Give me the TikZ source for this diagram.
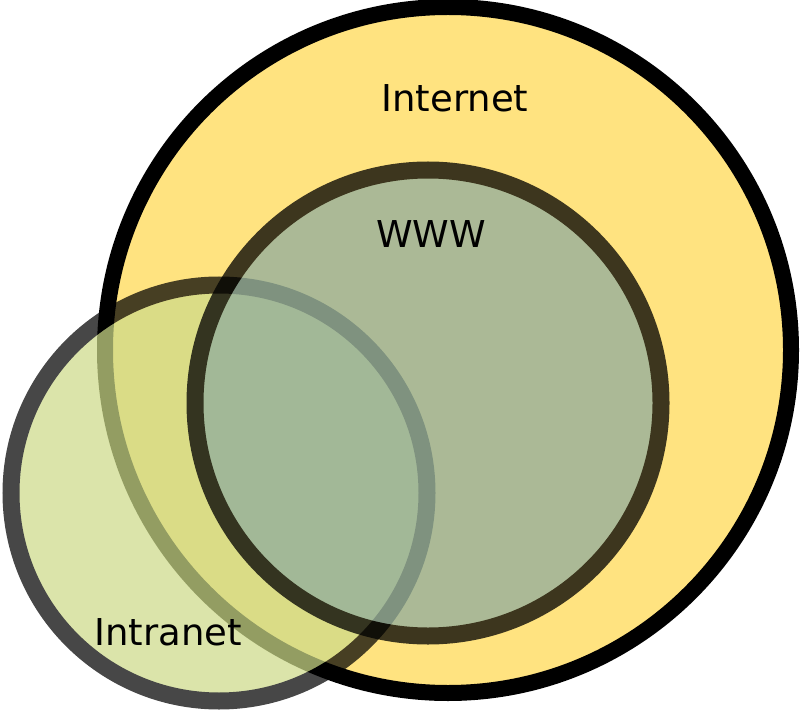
\documentclass[tikz,border=0pt]{standalone}
\usepackage{fontspec}
\setmainfont{DejaVu Sans}
\usepackage{tikz}
\usetikzlibrary{positioning}
\definecolor{internetyellow}{RGB}{255,227,128}
\definecolor{intranetgreen}{RGB}{205,218,137}
\definecolor{wwwgreen}{RGB}{145,173,157}
\begin{document}
\begin{tikzpicture}[x=1pt,y=1pt,yscale=-1,xscale=1,
    setlabel/.style={anchor=base,inner sep=0pt,font=\fontsize{37}{44}\selectfont}]
        \useasboundingbox (0,0) rectangle (800,711);
        %Shape: Circle [Internet]
        \draw[line width=16, fill=internetyellow] (448,350) circle (343);
        %Shape: Circle [Intranet]
        \begin{scope}[transparency group, opacity=0.72]
        \draw[line width=17, fill=intranetgreen] (219,493) circle (208);
        \end{scope}
        %Shape: Circle [WWW]
        \begin{scope}[transparency group, opacity=0.76]
        \draw[line width=17, fill=wwwgreen] (428,403) circle (233);
        \end{scope}
        % Text Node
        \node[setlabel] (internet) at (455,112) {Internet};
        % Text Node
        \node[setlabel] (www) at (431,248) {WWW};
        % Text Node
        \node[setlabel] (intranet) at (168,645) {Intranet};
\end{tikzpicture}
\end{document}
